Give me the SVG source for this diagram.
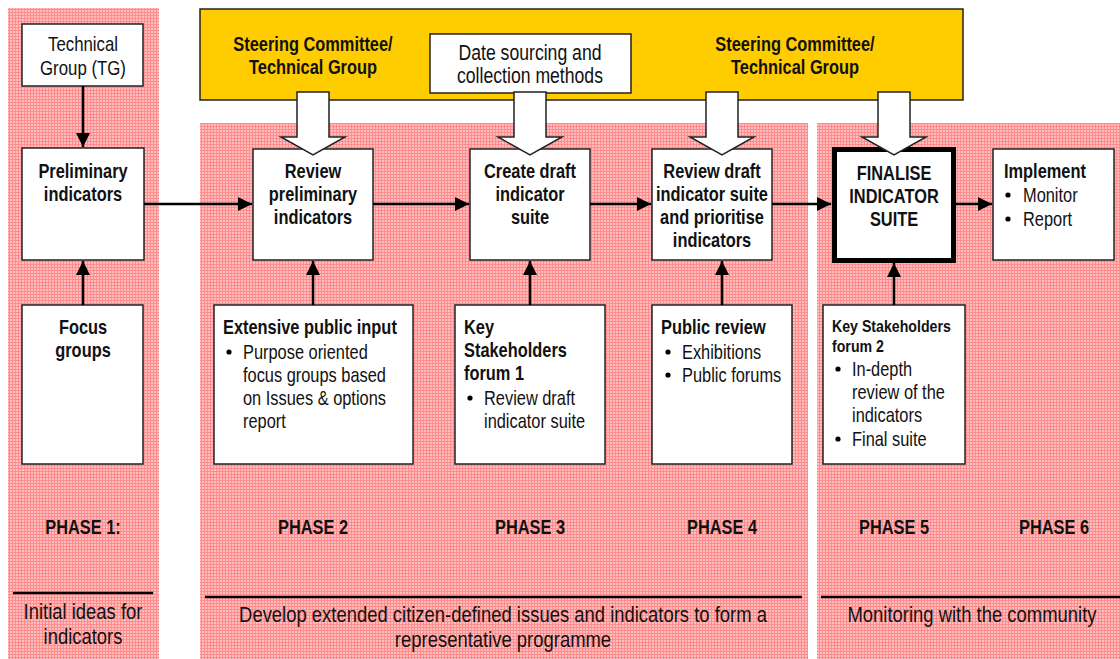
<svg xmlns="http://www.w3.org/2000/svg" width="1120" height="659" viewBox="0 0 1120 659">
<defs>
<pattern id="grid" width="3" height="3" patternUnits="userSpaceOnUse">
<rect width="3" height="3" fill="#ffbdbd"/>
<rect width="3" height="1" fill="#ff8c8c"/>
<rect width="1" height="3" fill="#ff8c8c"/>
</pattern>
<marker id="ah" viewBox="0 0 10 10" refX="10" refY="5" markerWidth="5.6" markerHeight="5.6" orient="auto" markerUnits="strokeWidth">
<path d="M0,0 L10,5 L0,10 Z" fill="#000"/>
</marker>
<path id="barrow" d="M-16,0 L16,0 L16,45 L32,45 L0,63 L-32,45 L-16,45 Z"/>
</defs>
<style>
text{font-family:"Liberation Sans",Arial,sans-serif;font-size:20px;fill:#111}
.b{font-weight:bold}
.c{text-anchor:middle}
.m{font-size:21.5px}
.t{font-size:20.5px}
.l{font-size:22.5px}
.s{font-size:17.3px}
.box{fill:#fff;stroke:#222;stroke-width:1.5}
.ln{stroke:#000;stroke-width:2.5;fill:none;marker-end:url(#ah)}
.sep{stroke:#000;stroke-width:2.5}
.ba{fill:#fff;stroke:#222;stroke-width:1.5}
</style>
<rect width="1120" height="659" fill="#fff"/>
<g id="panels">
<rect x="8" y="8" width="151" height="651" fill="url(#grid)"/>
<rect x="200" y="123" width="608" height="536" fill="url(#grid)"/>
<rect x="817" y="123" width="303" height="536" fill="url(#grid)"/>
</g>
<g id="steering">
<rect x="200" y="9" width="763" height="91" fill="#ffcc00" stroke="#222" stroke-width="1.5"/>
<text class="c b" transform="translate(313,51) scale(.82,1)">Steering Committee/</text>
<text class="c b" transform="translate(313,74) scale(.82,1)">Technical Group</text>
<text class="c b" transform="translate(795,51) scale(.82,1)">Steering Committee/</text>
<text class="c b" transform="translate(795,74) scale(.82,1)">Technical Group</text>
</g>
<g id="datasourcing">
<rect class="box" x="430" y="34" width="201" height="59"/>
<text class="c m" transform="translate(530,60) scale(.82,1)">Date sourcing and</text>
<text class="c m" transform="translate(530,83) scale(.82,1)">collection methods</text>
</g>
<g id="tg">
<rect class="box" x="22" y="24" width="121" height="62"/>
<text class="c t" transform="translate(83,51) scale(.82,1)">Technical</text>
<text class="c t" transform="translate(83,75) scale(.82,1)">Group (TG)</text>
</g>
<g id="prelim">
<rect class="box" x="22" y="148" width="122" height="112"/>
<text class="c b" transform="translate(83,178) scale(.82,1)">Preliminary</text>
<text class="c b" transform="translate(83,201) scale(.82,1)">indicators</text>
</g>
<g id="focus">
<rect class="box" x="22" y="305" width="121" height="159"/>
<text class="c b" transform="translate(83,334) scale(.82,1)">Focus</text>
<text class="c b" transform="translate(83,357) scale(.82,1)">groups</text>
</g>
<g id="review">
<rect class="box" x="253" y="149" width="120" height="111"/>
<text class="c b" transform="translate(313,178) scale(.82,1)">Review</text>
<text class="c b" transform="translate(313,201) scale(.82,1)">preliminary</text>
<text class="c b" transform="translate(313,224) scale(.82,1)">indicators</text>
</g>
<g id="create">
<rect class="box" x="470" y="149" width="120" height="111"/>
<text class="c b" transform="translate(530,178) scale(.82,1)">Create draft</text>
<text class="c b" transform="translate(530,201) scale(.82,1)">indicator</text>
<text class="c b" transform="translate(530,224) scale(.82,1)">suite</text>
</g>
<g id="reviewdraft">
<rect class="box" x="652" y="149" width="120" height="111"/>
<text class="c b" transform="translate(712,178) scale(.82,1)">Review draft</text>
<text class="c b" transform="translate(712,201) scale(.82,1)">indicator suite</text>
<text class="c b" transform="translate(712,224) scale(.82,1)">and prioritise</text>
<text class="c b" transform="translate(712,247) scale(.82,1)">indicators</text>
</g>
<g id="finalise">
<rect x="834.5" y="149.5" width="119" height="111" fill="#fff" stroke="#000" stroke-width="5"/>
<text class="c b" transform="translate(894,180) scale(.82,1)">FINALISE</text>
<text class="c b" transform="translate(894,203) scale(.82,1)">INDICATOR</text>
<text class="c b" transform="translate(894,226) scale(.82,1)">SUITE</text>
</g>
<g id="implement">
<rect class="box" x="993" y="149" width="121" height="111"/>
<text class="b" transform="translate(1004,178) scale(.82,1)">Implement</text>
<circle cx="1008" cy="195" r="2.6"/>
<text transform="translate(1023,202) scale(.82,1)">Monitor</text>
<circle cx="1008" cy="219" r="2.6"/>
<text transform="translate(1023,226) scale(.82,1)">Report</text>
</g>
<g id="publicinput">
<rect class="box" x="214" y="305" width="199" height="159"/>
<text class="b" transform="translate(223,334) scale(.82,1)">Extensive public input</text>
<circle cx="229" cy="352" r="2.6"/>
<text transform="translate(243,359) scale(.82,1)">Purpose oriented</text>
<text transform="translate(243,382) scale(.82,1)">focus groups based</text>
<text transform="translate(243,405) scale(.82,1)">on Issues &amp; options</text>
<text transform="translate(243,428) scale(.82,1)">report</text>
</g>
<g id="ksf1">
<rect class="box" x="455" y="305" width="150" height="159"/>
<text class="b" transform="translate(464,334) scale(.82,1)">Key</text>
<text class="b" transform="translate(464,357) scale(.82,1)">Stakeholders</text>
<text class="b" transform="translate(464,380) scale(.82,1)">forum 1</text>
<circle cx="470" cy="398" r="2.6"/>
<text transform="translate(484,405) scale(.82,1)">Review draft</text>
<text transform="translate(484,428) scale(.82,1)">indicator suite</text>
</g>
<g id="publicreview">
<rect class="box" x="652" y="305" width="140" height="159"/>
<text class="b" transform="translate(661,334) scale(.82,1)">Public review</text>
<circle cx="668" cy="352" r="2.6"/>
<text transform="translate(682,359) scale(.82,1)">Exhibitions</text>
<circle cx="668" cy="375" r="2.6"/>
<text transform="translate(682,382) scale(.82,1)">Public forums</text>
</g>
<g id="ksf2">
<rect class="box" x="823" y="305" width="142" height="159"/>
<text class="b s" transform="translate(832,332) scale(.82,1)">Key Stakeholders</text>
<text class="b s" transform="translate(832,352) scale(.82,1)">forum 2</text>
<circle cx="838" cy="369" r="2.6"/>
<text transform="translate(852,376) scale(.82,1)">In-depth</text>
<text transform="translate(852,399) scale(.82,1)">review of the</text>
<text transform="translate(852,422) scale(.82,1)">indicators</text>
<circle cx="838" cy="439" r="2.6"/>
<text transform="translate(852,446) scale(.82,1)">Final suite</text>
</g>
<g id="connectors">
<line class="ln" x1="83" y1="86" x2="83" y2="147"/>
<line class="ln" x1="83" y1="305" x2="83" y2="261"/>
<line class="ln" x1="144" y1="204" x2="252" y2="204"/>
<line class="ln" x1="373" y1="204" x2="469" y2="204"/>
<line class="ln" x1="590" y1="204" x2="651" y2="204"/>
<line class="ln" x1="772" y1="204" x2="831" y2="204"/>
<line class="ln" x1="956" y1="204" x2="992" y2="204"/>
<line class="ln" x1="313" y1="305" x2="313" y2="261"/>
<line class="ln" x1="530" y1="305" x2="530" y2="261"/>
<line class="ln" x1="722" y1="305" x2="722" y2="261"/>
<line class="ln" x1="894" y1="305" x2="894" y2="263"/>
<use href="#barrow" class="ba" x="313" y="92"/>
<use href="#barrow" class="ba" x="530" y="92"/>
<use href="#barrow" class="ba" x="722" y="92"/>
<use href="#barrow" class="ba" x="894" y="92"/>
</g>
<g id="phases">
<text class="c b" transform="translate(83,534) scale(.82,1)">PHASE 1:</text>
<text class="c b" transform="translate(313,534) scale(.82,1)">PHASE 2</text>
<text class="c b" transform="translate(530,534) scale(.82,1)">PHASE 3</text>
<text class="c b" transform="translate(722,534) scale(.82,1)">PHASE 4</text>
<text class="c b" transform="translate(894,534) scale(.82,1)">PHASE 5</text>
<text class="c b" transform="translate(1054,534) scale(.82,1)">PHASE 6</text>
<line class="sep" x1="13" y1="593" x2="153" y2="593"/>
<line class="sep" x1="205" y1="597" x2="802" y2="597"/>
<line class="sep" x1="821" y1="597" x2="1120" y2="597"/>
<text class="c l" transform="translate(83,619) scale(.82,1)">Initial ideas for</text>
<text class="c l" transform="translate(83,644) scale(.82,1)">indicators</text>
<text class="c l" transform="translate(503,622) scale(.82,1)">Develop extended citizen-defined issues and indicators to form a</text>
<text class="c l" transform="translate(503,647) scale(.82,1)">representative programme</text>
<text class="c l" transform="translate(972,622) scale(.82,1)">Monitoring with the community</text>
</g>
</svg>
